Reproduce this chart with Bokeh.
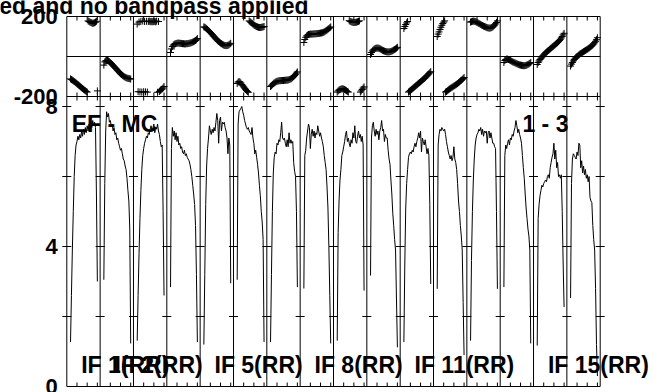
import math
from bokeh.plotting import figure
from bokeh.models import Range1d, FixedTicker, Label, ColumnDataSource
from bokeh.core.properties import value
from bokeh.embed import file_html
from bokeh.resources import INLINE

# ---------------- data ----------------
amp_if01 = [1.27, 2.6, 3.9, 5.0, 6.0, 6.6, 6.9, 7.0, 7.15, 7.05, 7.2, 7.1, 7.3, 7.15, 7.35, 7.2, 7.4, 7.25, 7.45, 7.3, 7.5, 7.35, 7.55, 7.4, 7.6, 7.45, 7.55, 7.4, 5.5, 3.0]
amp_if02 = [3.05, 5.8, 7.3, 7.85, 7.7, 7.8, 7.55, 7.6, 7.45, 7.5, 7.3, 7.4, 7.2, 7.25, 7.05, 7.1, 6.95, 6.85, 6.75, 6.8, 6.65, 6.5, 6.45, 6.3, 6.2, 5.95, 5.6, 5.3, 4.5, 1.23]
amp_if03 = [1.31, 2.6, 3.8, 4.8, 5.6, 6.2, 6.6, 6.8, 6.95, 7.05, 7.15, 7.1, 7.25, 7.2, 7.35, 7.45, 7.3, 7.4, 7.5, 7.25, 7.4, 7.35, 7.5, 7.3, 7.2, 7.0, 6.85, 6.9, 5.0, 2.6]
amp_if04 = [2.84, 6.8, 7.4, 7.15, 7.3, 7.05, 7.25, 7.0, 7.15, 6.9, 6.95, 6.8, 6.85, 6.7, 6.65, 6.75, 6.6, 6.65, 6.55, 6.5, 6.45, 6.35, 6.2, 6.0, 5.75, 5.5, 5.2, 4.6, 3.2, 1.27]
amp_if05 = [1.2, 3.2, 5.2, 6.3, 6.8, 7.1, 7.45, 7.3, 7.2, 7.35, 7.25, 7.4, 7.3, 7.55, 7.8, 7.6, 6.95, 7.6, 7.7, 7.3, 7.55, 7.5, 7.55, 7.4, 7.3, 7.1, 6.65, 7.1, 6.9, 2.95]
amp_if06 = [3.05, 7.5, 7.85, 7.9, 7.95, 8.0, 7.85, 7.75, 7.6, 7.5, 7.4, 7.35, 7.4, 7.3, 7.25, 7.2, 7.4, 7.1, 6.95, 6.65, 6.75, 6.55, 6.35, 6.1, 5.75, 5.45, 5.0, 4.7, 4.2, 1.27]
amp_if07 = [1.27, 3.2, 5.0, 6.1, 6.55, 6.7, 6.65, 6.95, 6.9, 7.05, 7.0, 7.25, 7.55, 7.1, 7.05, 7.1, 6.95, 6.85, 7.05, 6.85, 7.25, 6.95, 7.05, 6.95, 7.0, 6.4, 6.15, 6.0, 5.0, 2.84]
amp_if08 = [2.8, 6.6, 6.75, 7.1, 7.3, 7.5, 7.4, 6.8, 7.2, 7.35, 7.15, 7.3, 7.1, 7.25, 7.2, 7.45, 7.3, 7.15, 7.25, 7.1, 7.0, 6.85, 6.6, 6.4, 6.2, 5.7, 5.1, 4.0, 2.6, 1.23]
amp_if09 = [1.31, 4.4, 5.3, 5.9, 6.2, 6.6, 6.7, 6.85, 7.0, 7.2, 7.3, 7.0, 7.1, 6.95, 6.85, 7.05, 6.95, 7.25, 7.1, 7.45, 7.0, 6.95, 7.15, 7.3, 7.1, 7.2, 7.0, 7.15, 6.9, 2.74]
amp_if10 = [3.17, 7.1, 7.45, 7.55, 7.3, 7.15, 7.35, 7.2, 7.3, 7.05, 7.3, 7.4, 7.6, 7.3, 7.35, 7.0, 7.2, 7.1, 7.1, 6.75, 6.5, 6.35, 5.9, 5.5, 4.95, 4.6, 4.2, 3.9, 2.5, 1.12]
amp_if11 = [1.27, 3.5, 5.1, 5.8, 6.2, 6.55, 6.65, 6.7, 6.65, 6.75, 6.7, 6.85, 6.95, 6.85, 7.0, 7.1, 7.25, 7.1, 7.3, 6.7, 7.1, 7.0, 6.9, 7.05, 6.85, 6.65, 6.8, 6.6, 5.2, 2.93]
amp_if12 = [2.79, 6.9, 7.2, 7.35, 7.3, 7.4, 7.35, 7.3, 7.35, 7.2, 7.0, 6.85, 6.7, 6.6, 6.5, 6.6, 6.45, 6.55, 6.85, 6.5, 6.4, 6.2, 5.8, 5.3, 5.0, 4.6, 4.3, 3.9, 2.4, 0.9]
amp_if13 = [1.31, 3.6, 5.0, 5.9, 6.5, 6.9, 7.1, 7.2, 7.25, 7.35, 7.3, 7.4, 7.2, 7.35, 7.15, 7.3, 7.25, 7.3, 6.95, 7.25, 7.3, 7.1, 7.25, 7.1, 6.95, 6.95, 6.85, 6.8, 5.0, 2.79]
amp_if14 = [2.84, 6.6, 6.9, 6.8, 6.95, 7.05, 6.9, 7.1, 7.05, 7.2, 7.15, 7.3, 7.4, 7.6, 7.45, 7.25, 7.35, 7.2, 7.1, 6.95, 6.6, 6.25, 5.95, 5.5, 5.1, 4.8, 4.5, 4.3, 3.9, 1.23]
amp_if15 = [1.17, 4.8, 5.2, 5.45, 5.6, 5.75, 5.7, 5.8, 5.85, 5.9, 5.85, 6.0, 6.05, 5.95, 6.25, 6.4, 6.55, 6.65, 6.95, 6.5, 6.75, 6.25, 6.4, 6.0, 6.05, 5.95, 6.05, 5.0, 3.5, 2.27]
amp_if16 = [2.53, 5.8, 6.5, 6.65, 6.6, 6.55, 6.5, 6.7, 6.6, 6.95, 6.9, 6.25, 6.45, 6.1, 6.3, 6.05, 6.2, 5.95, 6.05, 5.85, 6.0, 5.4, 5.3, 5.25, 4.6, 4.2, 3.9, 2.8, 1.2, 0.3]

ph_if01 = [-112, -115, -118, -121, -125, -128, -132, -136, -140, -144, -148, -152, -156, -160, -164, -168, -171, -175, -178, 178, 175, 172, 170, 168, 166, 167, 169, 172, 176, -172]
ph_if02 = [-43, -27, -22, -20, -20, -22, -26, -30, -35, -40, -45, -50, -55, -60, -66, -71, -76, -81, -86, -90, -94, -98, -101, -104, -106, -108, -109, -110, -111, -113]
ph_if03 = [162, -176, 172, -177, 176, -178, 177, -176, 175, -177, 176, -178, 175, 177, 174, 176, 173, 175, 174, 176, 173, 177, -179, 175, -175, -170, -166, -162, -157, -150]
ph_if04 = [20, 38, 50, 57, 61, 63, 65, 66, 67, 67, 66, 66, 65, 64, 64, 63, 63, 64, 64, 65, 66, 67, 68, 70, 72, 74, 77, 80, 84, 90]
ph_if05 = [148, 146, 143, 139, 135, 130, 125, 120, 115, 110, 104, 99, 94, 89, 84, 79, 75, 71, 67, 64, 61, 58, 56, 55, 54, 55, 56, 58, 62, 66]
ph_if06 = [-135, -128, -125, -128, -133, -140, -146, -152, -158, -164, -170, -175, -179, 178, 174, 170, 166, 162, 158, 155, 152, 150, 148, 146, 145, 145, 146, 147, 148, 150]
ph_if07 = [-150, -146, -141, -136, -132, -129, -126, -124, -123, -122, -121, -121, -120, -120, -120, -119, -119, -118, -118, -117, -116, -114, -112, -109, -105, -100, -95, -89, -83, -77]
ph_if08 = [70, 85, 96, 103, 107, 110, 111, 112, 112, 112, 113, 113, 113, 114, 114, 115, 115, 116, 117, 118, 119, 121, 123, 126, 129, 132, 136, 140, 144, 148]
ph_if09 = [-178, -172, -168, -165, -163, -162, -162, -163, -165, -168, -171, -175, -178, 179, 176, 174, 172, 171, 170, 170, 171, 172, 174, 176, 178, -178, -172, -165, -158, -152]
ph_if10 = [10, 20, 28, 33, 37, 40, 42, 42, 42, 41, 39, 37, 34, 31, 29, 27, 25, 24, 23, 23, 23, 24, 25, 27, 29, 32, 35, 38, 42, 46]
ph_if11 = [140, 150, 160, 168, 175, -178, -174, -170, -166, -162, -158, -154, -150, -146, -142, -138, -134, -130, -126, -122, -118, -114, -110, -106, -101, -96, -91, -86, -81, -76]
ph_if12 = [100, 112, 123, 135, 146, 156, 165, 172, 178, -178, -175, -171, -167, -163, -160, -157, -154, -151, -148, -145, -142, -139, -135, -131, -127, -123, -119, -115, -110, -105]
ph_if13 = [172, 174, 176, 177, 176, 175, 173, 170, 168, 165, 163, 160, 157, 155, 152, 150, 148, 146, 144, 143, 142, 142, 143, 145, 148, 152, 157, 163, 170, 178]
ph_if14 = [-30, -20, -15, -13, -13, -15, -17, -20, -23, -26, -28, -30, -32, -34, -36, -38, -40, -42, -43, -44, -45, -46, -46, -45, -44, -42, -40, -37, -34, -30]
ph_if15 = [-40, -30, -22, -15, -9, -3, 3, 8, 13, 18, 22, 26, 30, 34, 38, 42, 46, 50, 54, 58, 62, 66, 70, 75, 80, 86, 93, 100, 108, 116]
ph_if16 = [-48, -38, -30, -22, -15, -9, -4, 0, 4, 8, 12, 15, 18, 21, 24, 27, 30, 33, 36, 39, 42, 46, 50, 54, 58, 63, 69, 76, 84, 94]

amp_ticks = [0, 4, 8]
amp_minor_marks = [2, 4, 6, 8]
phase_ticks = [-200, 200]
channel_ticks = [8, 19, 30]
if_labels = {1: "IF 1(RR)", 2: "IF 2(RR)", 5: "IF 5(RR)", 8: "IF 8(RR)", 11: "IF 11(RR)", 15: "IF 15(RR)"}
title_text = "ed and no bandpass applied"
source_label = "EF - MC"
baseline_label = "1 - 3"

amps = [amp_if01, amp_if02, amp_if03, amp_if04, amp_if05, amp_if06, amp_if07, amp_if08,
        amp_if09, amp_if10, amp_if11, amp_if12, amp_if13, amp_if14, amp_if15, amp_if16]
phases = [ph_if01, ph_if02, ph_if03, ph_if04, ph_if05, ph_if06, ph_if07, ph_if08,
          ph_if09, ph_if10, ph_if11, ph_if12, ph_if13, ph_if14, ph_if15, ph_if16]

# ---------------- geometry (pixels of the page) ----------------
W, H = 654, 392
N_IF = len(amps)
PANEL_W = 36                 # channel units per IF panel
CHAN_OFF = 3
AREA_L, AREA_R = 66.3, 599.7 # plot area, px
PXU = (AREA_R - AREA_L) / (PANEL_W * N_IF)
AMP0_PX, AMP_PX = 386.0, 35.0     # amplitude 0 at y=386, 35 px per unit
PH0_PX, PH_PX = 56.0, 0.2         # phase 0 at y=56, 0.2 px per degree
AREA_T = 16.0

x_lo = -AREA_L / PXU
x_hi = x_lo + W / PXU
amp_lo = -(H - AMP0_PX) / AMP_PX
amp_hi = AMP0_PX / AMP_PX
ph_lo = -(H - PH0_PX) / PH_PX
ph_hi = PH0_PX / PH_PX

def ph_to_amp(ph):
    return (AMP0_PX - (PH0_PX - ph * PH_PX)) / AMP_PX

AMP_TOP = (AMP0_PX - AREA_T) / AMP_PX
SEP = ph_to_amp(phase_ticks[0])
X_END = PANEL_W * N_IF

def chan_x(i, k):
    return PANEL_W * i + CHAN_OFF + k

FONT = "Liberation Sans"

p = figure(width=W, height=H, x_range=Range1d(x_lo, x_hi), y_range=Range1d(amp_lo, amp_hi),
           x_axis_location=None, y_axis_location=None,
           output_backend="svg", toolbar_location=None,
           min_border=0, min_border_left=0, min_border_right=0, min_border_top=0, min_border_bottom=0,
           outline_line_color=None, background_fill_color="white", border_fill_color="white")
p.styles = {"position": "absolute", "left": "0px", "top": "0px"}
p.extra_y_ranges = {"phase": Range1d(ph_lo, ph_hi)}
for g in p.grid:
    g.visible = False

# frame of the plot area and panel separators
bx = [PANEL_W * i for i in range(N_IF + 1)]
p.segment(x0=bx, y0=[0] * len(bx), x1=bx, y1=[AMP_TOP] * len(bx), line_color="black", line_width=1)
p.segment(x0=[0, 0, 0], y0=[0, SEP, AMP_TOP], x1=[X_END] * 3, y1=[0, SEP, AMP_TOP],
          line_color="black", line_width=1)
p.segment(x0=[0], y0=[0], x1=[X_END], y1=[0], y_range_name="phase", line_color="black", line_width=1)

# tick crosses on panel edges (amplitude 2,4,6,8)
cx = [x for x in bx for _ in amp_minor_marks]
cy = [v for _ in bx for v in amp_minor_marks]
p.scatter(x=cx, y=cy, marker="dash", size=9, line_color="black", line_width=1)
# channel ticks on top, middle and bottom edges
tx = [chan_x(i, c) for i in range(N_IF) for c in channel_ticks]
p.scatter(x=tx, y=[AMP_TOP - 2 / AMP_PX] * len(tx), marker="dash", angle=math.pi / 2, size=4,
          line_color="black", line_width=1)
p.scatter(x=tx, y=[SEP] * len(tx), marker="dash", angle=math.pi / 2, size=8,
          line_color="black", line_width=1)
p.scatter(x=tx, y=[2 / AMP_PX] * len(tx), marker="dash", angle=math.pi / 2, size=4,
          line_color="black", line_width=1)

# amplitude spectra
xs = [[chan_x(i, k + 1) for k in range(len(a))] for i, a in enumerate(amps)]
p.multi_line(xs=xs, ys=amps, line_color="black", line_width=1)

# phases
px = [chan_x(i, k + 1) for i, ph in enumerate(phases) for k in range(len(ph))]
py = [v for ph in phases for v in ph]
p.scatter(x=px, y=py, y_range_name="phase", marker="cross", size=7, line_color="black", line_width=1)

# left-hand scale labels (phase and amplitude)
lab_x = -9 / PXU
ysrc = ColumnDataSource(dict(
    x=[lab_x] * (len(amp_ticks) + len(phase_ticks)),
    y=list(amp_ticks) + [ph_to_amp(t) for t in phase_ticks],
    t=[str(t) for t in amp_ticks] + [str(t) for t in phase_ticks]))
p.text(x="x", y="y", text="t", source=ysrc, text_align="right", text_baseline="middle",
       text_font=value(FONT), text_font_style="bold", text_font_size="22px", text_color="black")

def lab(x, y, text, align="left"):
    p.add_layout(Label(x=x, y=y, text=text, text_align=align, text_baseline="alphabetic",
                       text_font=FONT, text_font_style="bold", text_font_size="23px",
                       text_color="black"))

lab((308 - AREA_L) / PXU, (AMP0_PX - 5) / AMP_PX, title_text, "right")
lab(5.3, (AMP0_PX - 123) / AMP_PX, source_label)
lab(492, (AMP0_PX - 123) / AMP_PX, baseline_label)
for n, t in if_labels.items():
    lab(PANEL_W * (n - 1) + 15.5, (AMP0_PX - 364) / AMP_PX, t)

open("out.html", "w").write(file_html(p, INLINE))
